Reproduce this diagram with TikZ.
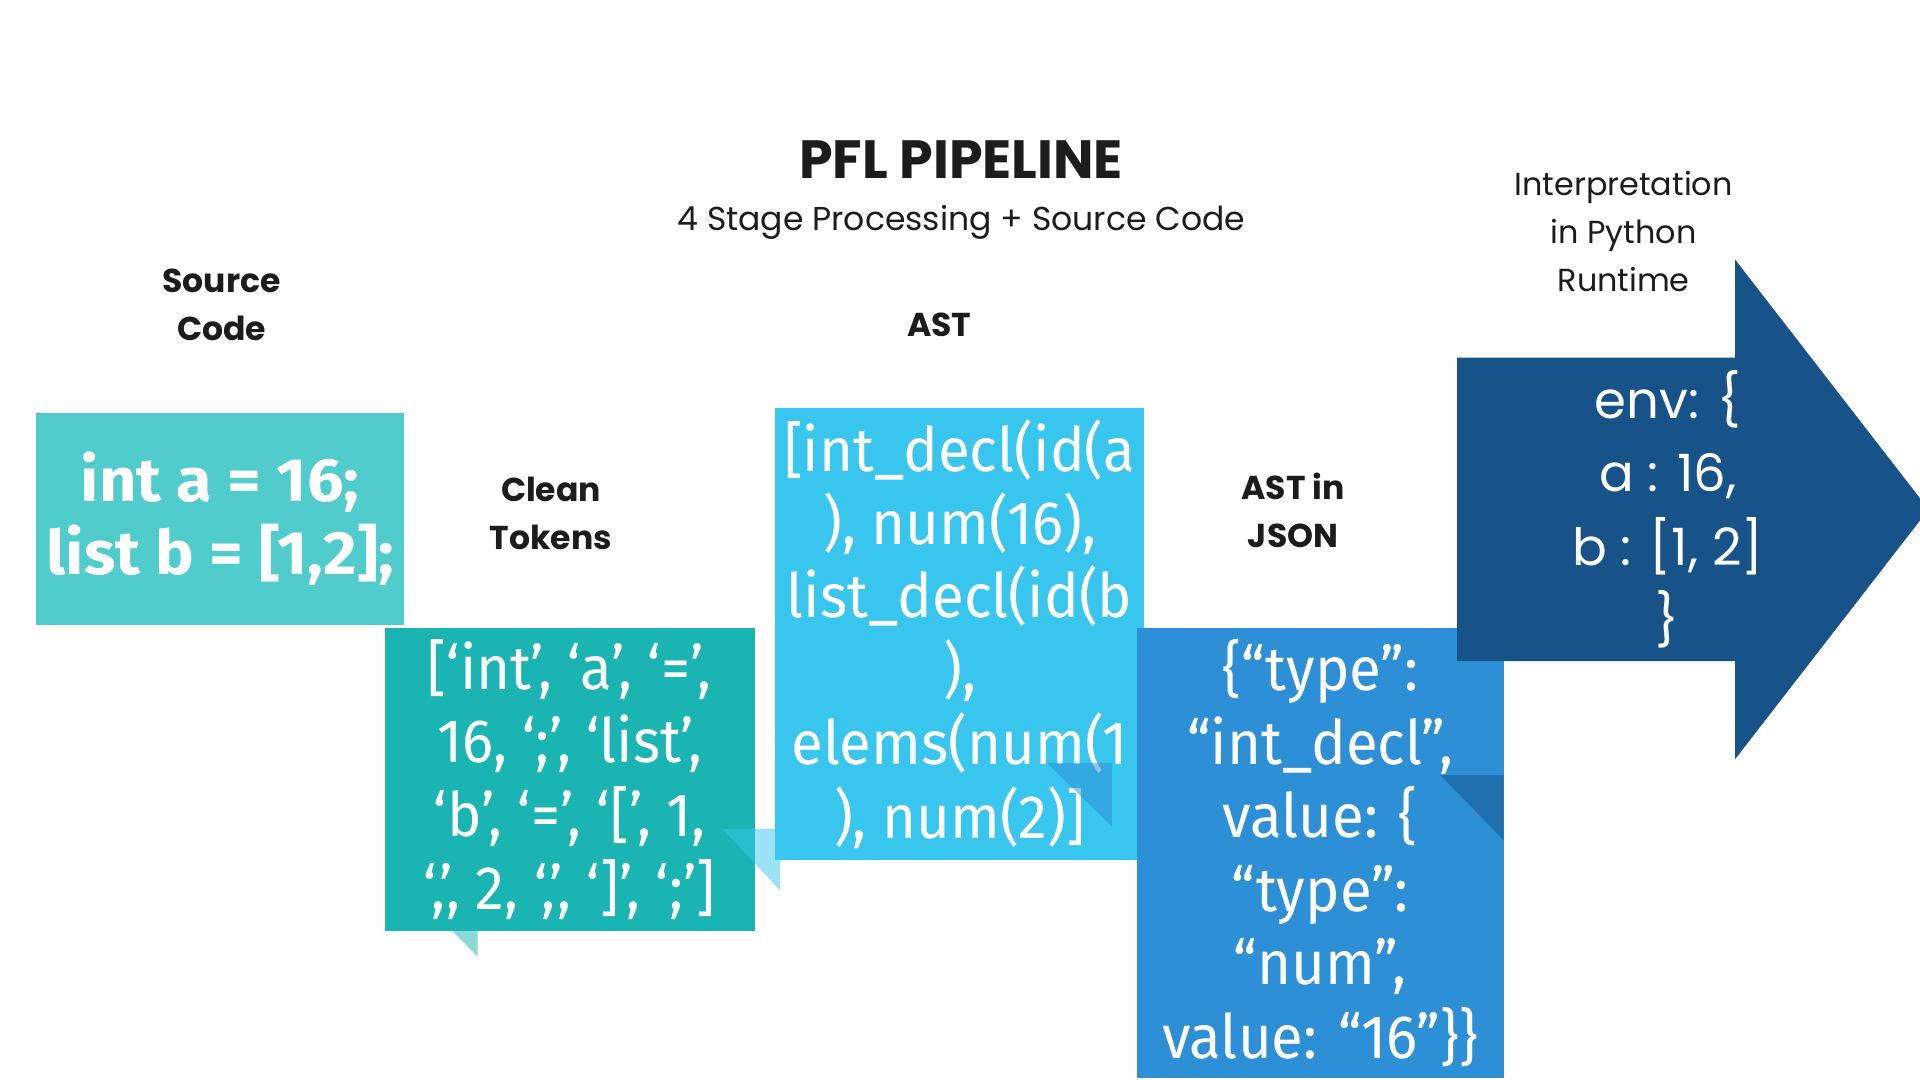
\documentclass[tikz,border=0pt]{standalone}
\usepackage{fontspec}
\setmainfont{Poppins}
\newfontfamily\codefont[FakeStretch=0.95]{Fira Sans}
\newfontfamily\codebold[FakeStretch=1.06]{Fira Sans}
\usetikzlibrary{positioning}

\definecolor{srcteal}{HTML}{4FCCCB}
\definecolor{tokteal}{HTML}{1AB4B2}
\definecolor{astblue}{HTML}{38C6EE}
\definecolor{jsonblue}{HTML}{2D90D6}
\definecolor{envblue}{HTML}{175389}
\definecolor{ink}{HTML}{1C1C1C}

\tikzset{
  stagebox/.style={inner sep=0pt, anchor=north west, text=white, align=center,
    font=\codefont\fontsize{50}{60}\selectfont},
  stagelabel/.style={inner sep=0pt, text=ink, align=center,
    font=\bfseries\fontsize{27}{39}\selectfont},
  fold/.style={opacity=.5}
}

\begin{document}
\begin{tikzpicture}[x=1pt,y=-1pt]
\useasboundingbox (0,0) rectangle (1568,882);
\fill[white] (0,0) rectangle (1568,882);

\node[inner sep=0pt, text=ink, font=\bfseries\fontsize{44}{50}\selectfont] (title) at (785,130) {PFL PIPELINE};
\node[inner sep=0pt, text=ink, font=\fontsize{27}{32}\selectfont, below=22pt of title] (subtitle) {4 Stage Processing + Source Code};

% stages
\node[stagebox, fill=srcteal, minimum width=301pt, minimum height=173pt,
  font=\codebold\bfseries\fontsize{50}{60}\selectfont] (src) at (29,337) {int a = 16;\\list b = [1,2];};
\node[stagelabel] (srclbl) at (181,249) {Source\\Code};

\node[stagebox, fill=tokteal, minimum width=302pt, minimum height=247pt] (tok) at (314,513)
  {[‘int’, ‘a’, ‘=’,\\16, ‘;’, ‘list’,\\‘b’, ‘=’, ‘[’, 1,\\‘,’, 2, ‘,’, ‘]’, ‘;’]};
\fill[tokteal, fold] (369,760) -- (390,760) -- (390,781) -- cycle;
\fill[astblue, fold] (590,677) -- (637,677) -- (637,727) -- cycle;
\node[stagelabel] (toklbl) at (450,419) {Clean\\Tokens};

\node[stagebox, fill=astblue, minimum width=301pt, minimum height=369pt] (ast) at (633,333)
  {[int\_decl(id(a\\), num(16),\\list\_decl(id(b\\),\\elems(num(1\\), num(2)]};
\fill[jsonblue, fold] (855,623) -- (908,623) -- (908,675) -- cycle;
\node[stagelabel] (astlbl) at (767,265) {AST};

\node[stagebox, fill=jsonblue, minimum width=300pt, minimum height=367pt] (json) at (928,513)
  {\{“type”:\\“int\_decl”,\\value: \{\\“type”:\\“num”,\\value: “16”\}\}};
\fill[envblue, fold] (1176,633) -- (1228,633) -- (1228,686) -- cycle;
\node[stagelabel] (jsonlbl) at (1056,417) {AST in\\JSON};

% runtime arrow
\fill[envblue] (1190,292) -- (1417,292) -- (1417,212) -- (1575,416) -- (1417,620) -- (1417,540) -- (1190,540) -- cycle;
\node[inner sep=0pt, text=white, align=center, font=\fontsize{42}{60}\selectfont] (env) at (1362,416)
  {env: \{\\a : 16,\\b : [1, 2]\\\}};
\node[stagelabel, font=\fontsize{26}{39}\selectfont] (runlbl) at (1326,189) {Interpretation\\in Python\\Runtime};
\end{tikzpicture}
\end{document}
